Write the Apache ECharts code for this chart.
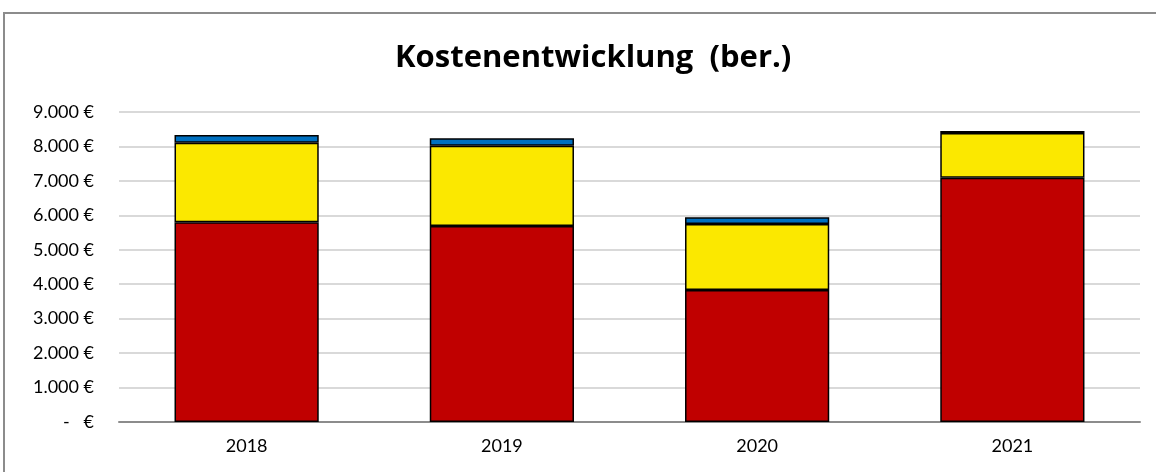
<!DOCTYPE html>
<html><head><meta charset="utf-8">
<script src="https://cdn.jsdelivr.net/npm/echarts@6/dist/echarts.min.js"></script>
<style>html,body{margin:0;padding:0;background:#fff}#c{width:1156px;height:472px}</style>
</head><body><div id="c"></div>
<script>
const categories = ['2018', '2019', '2020', '2021'];
const redValues = [5800, 5690, 3830, 7090];
const yellowValues = [2310, 2330, 1920, 1300];
const blueValues = [220, 215, 195, 60];
const yTicks = [0, 1000, 2000, 3000, 4000, 5000, 6000, 7000, 8000, 9000];

const chart = echarts.init(document.getElementById('c'));
const fmt = v => v === 0 ? '-   €' : (v / 1000).toFixed(3) + ' €';
const font = 'Lato, "Open Sans", sans-serif';
const border = { borderColor: '#000', borderWidth: 1.5 };
chart.setOption({
  animation: false,
  graphic: [{ type: 'rect', shape: { x: 4, y: 13, width: 1170, height: 480 }, style: { fill: 'none', stroke: '#8c8c8c', lineWidth: 2 } }],
  title: { text: 'Kostenentwicklung  (ber.)', left: 390, top: 38, textStyle: { fontFamily: '"Open Sans", sans-serif', fontWeight: 'bold', fontSize: 31, color: '#000' } },
  grid: { left: 119, right: 16, top: 112, bottom: 50 },
  xAxis: { type: 'category', data: categories,
    axisLine: { lineStyle: { color: '#8c8c8c', width: 2 } }, axisTick: { show: false },
    axisLabel: { fontFamily: font, fontSize: 18, color: '#000', margin: 15 } },
  yAxis: { type: 'value', min: 0, max: 9000, interval: 1000,
    axisLine: { show: false }, axisTick: { show: false },
    splitLine: { lineStyle: { color: '#d9d9d9', width: 2 } },
    axisLabel: { fontFamily: font, fontSize: 18, color: '#000', margin: 25, formatter: v => yTicks.includes(v) ? fmt(v) : '' } },
  series: [
    { type: 'bar', stack: 's', data: redValues, barWidth: '56.5%', itemStyle: Object.assign({ color: '#C00000' }, border) },
    { type: 'bar', stack: 's', data: yellowValues, itemStyle: Object.assign({ color: '#FBE800' }, border) },
    { type: 'bar', stack: 's', data: blueValues, itemStyle: Object.assign({ color: '#0070C0' }, border) }
  ]
});
</script></body></html>
